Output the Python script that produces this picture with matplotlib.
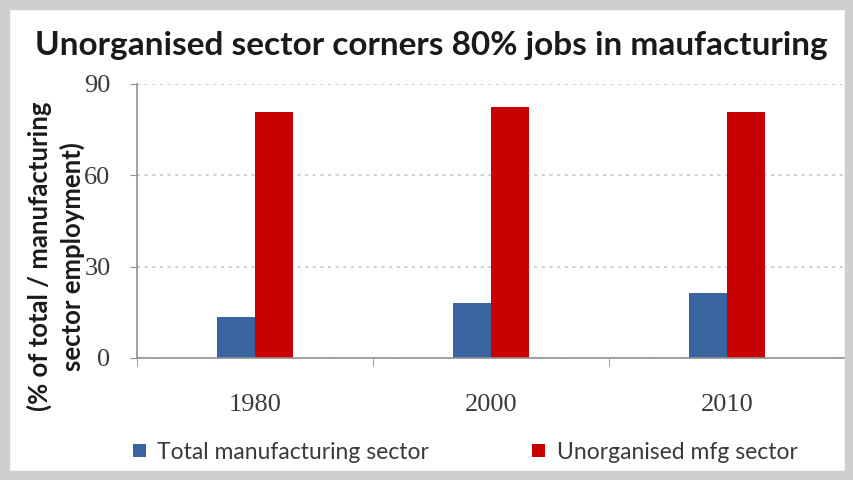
import matplotlib.pyplot as plt
import numpy as np
from matplotlib.patches import Rectangle

years = ["1980", "2000", "2010"]
total_mfg = [13.5, 18.2, 21.4]
unorganised_mfg = [80.8, 82.3, 80.8]

blue = "#3a64a0"
red = "#c80000"

plt.rcParams["font.family"] = ["Lato", "DejaVu Sans"]

fig = plt.figure(figsize=(8.54, 4.8), dpi=100)
# light grey frame round the chart area
fig.patches.append(Rectangle((0, 0), 1, 1, transform=fig.transFigure,
                             facecolor="none", edgecolor="#cfcfcf", linewidth=14))

ax = fig.add_axes([0.1604, 0.2542, 0.829, 0.5708])
x = np.arange(len(years))
w = 0.16
ax.bar(x - w / 2, total_mfg, w, color=blue, label="Total manufacturing sector")
ax.bar(x + w / 2, unorganised_mfg, w, color=red, label="Unorganised mfg sector")

ax.set_xlim(-0.5, len(years) - 0.5)
ax.set_ylim(0, 90)
ax.set_yticks([0, 30, 60, 90])
ax.yaxis.grid(True, linestyle=(0, (2, 3)), color="#c4c4c4", linewidth=1.1)
ax.set_axisbelow(True)

for s in ["top", "right"]:
    ax.spines[s].set_visible(False)
for s in ["left", "bottom"]:
    ax.spines[s].set_color("#909090")
    ax.spines[s].set_linewidth(1.2)

ax.set_xticks(x)
ax.set_xticklabels(years, family="Liberation Serif", fontsize=19, color="#3a3a3a")
ax.tick_params(axis="x", length=0, pad=26)
ax.set_xticks(np.arange(-0.5, len(years)), minor=True)
ax.tick_params(axis="x", which="minor", length=6, color="#909090", direction="out")
ax.tick_params(axis="y", length=5, color="#909090", pad=14)
for lab in ax.get_yticklabels():
    lab.set_family("Liberation Serif")
    lab.set_fontsize(19)
    lab.set_color("#3a3a3a")

ax.set_ylabel("(% of total / manufacturing\nsector employment)", fontsize=18.5,
              fontweight="bold", color="#1a1a1a", linespacing=1.35)
ax.yaxis.set_label_coords(-0.074, 0.37)

fig.text(0.505, 0.905, "Unorganised sector corners 80% jobs in maufacturing",
         ha="center", va="center", fontsize=24, fontweight="bold", color="#1a1a1a")

fig.legend(loc="center", bbox_to_anchor=(0.545, 0.058), ncol=2, frameon=False,
           fontsize=16.5, handlelength=0.55, handleheight=0.55, handletextpad=0.5,
           columnspacing=4.5, labelcolor="#3a3a3a")

fig.savefig("out.png", dpi=100, facecolor="white")
